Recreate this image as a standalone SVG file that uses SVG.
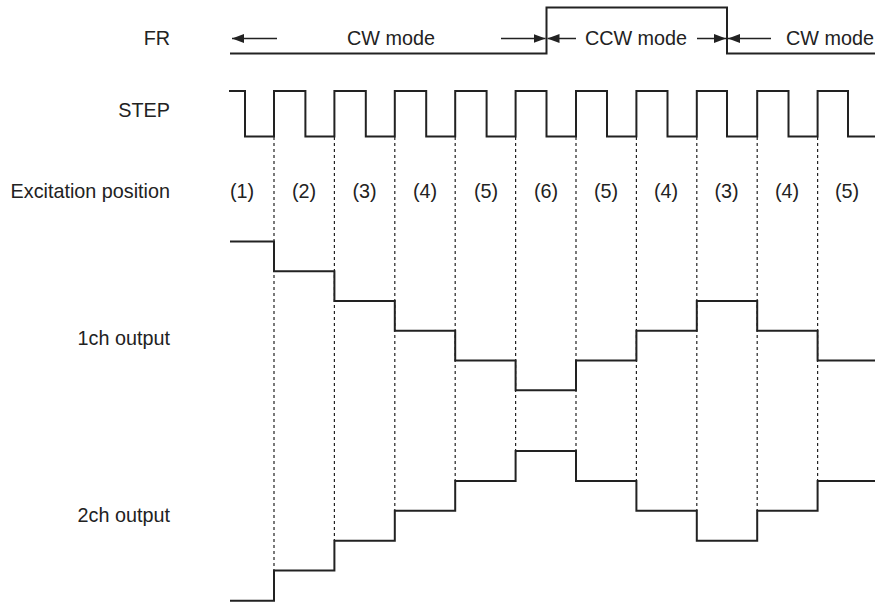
<svg xmlns="http://www.w3.org/2000/svg" width="875" height="603" viewBox="0 0 875 603">
<defs>
<style>
text{font-family:"Liberation Sans",Arial,sans-serif;font-size:19.8px;fill:#222}
.lbl{text-anchor:end}
.num{text-anchor:middle}
.wave{fill:none;stroke:#222;stroke-width:2;stroke-linejoin:miter}
.dash{stroke:#222;stroke-width:1.2;stroke-dasharray:3,3;fill:none}
.arr{stroke:#222;stroke-width:1.5;fill:none;marker-end:url(#ah)}
</style>
<marker id="ah" viewBox="0 0 12 9" refX="12" refY="4.5" markerWidth="12" markerHeight="9" markerUnits="userSpaceOnUse" orient="auto">
<path d="M0,0 L12,4.5 L0,9 Z" fill="#222"/>
</marker>
</defs>
<rect width="875" height="603" fill="#fff"/>
<g id="labels">
<text class="lbl" x="170" y="45">FR</text>
<text class="lbl" x="170" y="117">STEP</text>
<text class="lbl" x="170" y="198">Excitation position</text>
<text class="lbl" x="170" y="345">1ch output</text>
<text class="lbl" x="170" y="522">2ch output</text>
</g>
<g id="positions">
<text class="num" x="242" y="198">(1)</text>
<text class="num" x="304" y="198">(2)</text>
<text class="num" x="364.5" y="198">(3)</text>
<text class="num" x="425" y="198">(4)</text>
<text class="num" x="486" y="198">(5)</text>
<text class="num" x="546" y="198">(6)</text>
<text class="num" x="606" y="198">(5)</text>
<text class="num" x="666" y="198">(4)</text>
<text class="num" x="726.5" y="198">(3)</text>
<text class="num" x="787" y="198">(4)</text>
<text class="num" x="847" y="198">(5)</text>
</g>
<g id="dashes">
<line class="dash" x1="274" y1="137" x2="274" y2="570.5"/>
<line class="dash" x1="334.4" y1="137" x2="334.4" y2="540.7"/>
<line class="dash" x1="394.8" y1="137" x2="394.8" y2="510.8"/>
<line class="dash" x1="455.2" y1="137" x2="455.2" y2="481"/>
<line class="dash" x1="515.6" y1="137" x2="515.6" y2="451"/>
<line class="dash" x1="576" y1="137" x2="576" y2="451"/>
<line class="dash" x1="636.4" y1="137" x2="636.4" y2="481"/>
<line class="dash" x1="696.8" y1="137" x2="696.8" y2="510.8"/>
<line class="dash" x1="757.2" y1="137" x2="757.2" y2="510.8"/>
<line class="dash" x1="817.6" y1="137" x2="817.6" y2="481"/>
</g>
<g id="fr">
<path class="wave" d="M230,53.5 H546.5 V7.5 H727 V53.5 H875"/>
<line class="arr" x1="277" y1="38.5" x2="232" y2="38.5"/>
<line class="arr" x1="501" y1="38.5" x2="545.5" y2="38.5"/>
<line class="arr" x1="576" y1="38.5" x2="547.5" y2="38.5"/>
<line class="arr" x1="697" y1="38.5" x2="726" y2="38.5"/>
<line class="arr" x1="771" y1="38.5" x2="728" y2="38.5"/>
<text class="num" x="391" y="45">CW mode</text>
<text class="num" x="636" y="45">CCW mode</text>
<text x="786" y="45">CW mode</text>
</g>
<g id="step">
<path class="wave" d="M229,91 H245 V136.5 H274 V91 H305.4 V136.5 H334.4 V91 H365.8 V136.5 H394.8 V91 H426.2 V136.5 H455.2 V91 H486.6 V136.5 H515.6 V91 H546.5 V136.5 H576 V91 H607 V136.5 H636.4 V91 H667.5 V136.5 H696.8 V91 H727 V136.5 H757.2 V91 H788.5 V136.5 H817.6 V91 H848 V136.5 H875"/>
</g>
<g id="ch1">
<path class="wave" d="M230,241.5 H274 V271.3 H334.4 V301 H394.8 V330.8 H455.2 V360.5 H515.6 V390.3 H576 V360.5 H636.4 V330.8 H696.8 V301 H757.2 V330.8 H817.6 V360.5 H875"/>
</g>
<g id="ch2">
<path class="wave" d="M230,600.7 H274 V570.5 H334.4 V540.7 H394.8 V510.8 H455.2 V481 H515.6 V451 H576 V481 H636.4 V510.8 H696.8 V540.7 H757.2 V510.8 H817.6 V481 H875"/>
</g>
</svg>
